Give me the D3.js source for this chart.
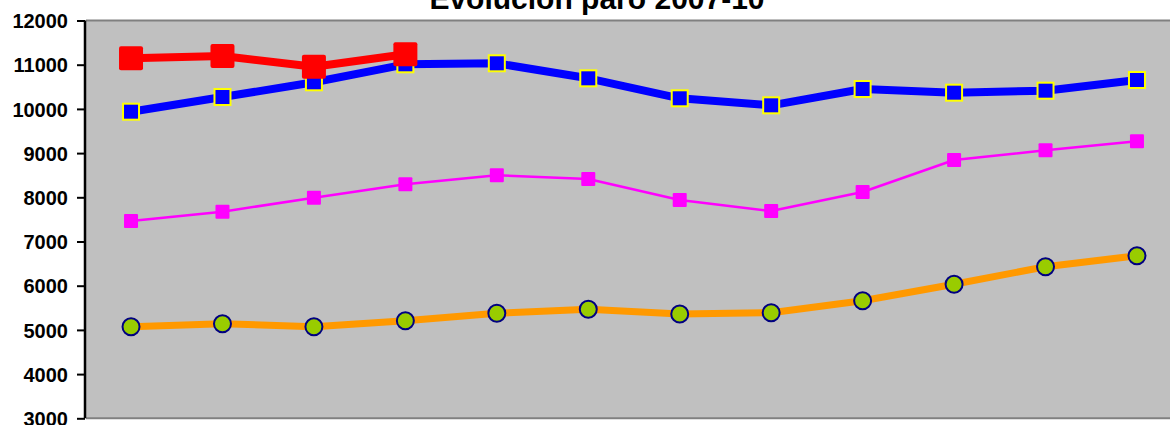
<!DOCTYPE html>
<html><head><meta charset="utf-8">
<script src="https://cdn.jsdelivr.net/npm/d3@7"></script>
<style>html,body{margin:0;padding:0;background:#fff;overflow:hidden}</style>
</head><body>
<svg id="c" width="1170" height="425"></svg>
<script>
const title = "Evolución paro 2007-10";
const months = ["Ene","Feb","Mar","Abr","May","Jun","Jul","Ago","Sep","Oct","Nov","Dic"];
const yTicks = [3000,4000,5000,6000,7000,8000,9000,10000,11000,12000];
const s2007 = [5072,5140,5072,5208,5376,5466,5360,5389,5661,6032,6430,6679];
const s2008 = [7464,7674,7991,8294,8498,8414,7939,7690,8120,8844,9063,9267];
const s2009 = [9937,10269,10602,11009,11032,10692,10240,10081,10450,10367,10412,10654];
const s2010 = [11145,11197,10955,11235];

const svg = d3.select("#c");
const L = 86, R = 1182.7, T = 20.5, B = 418.3;
const x = d3.scalePoint().domain(months).range([L - 0.7, R]).padding(0.5);
const y = d3.scaleLinear().domain([3000,12000]).range([B, T]);

// plot area
svg.append("rect").attr("x", L).attr("y", T).attr("width", R - L + 10).attr("height", B - T).attr("fill", "#C0C0C0");
svg.append("line").attr("x1", L).attr("x2", 1170).attr("y1", T).attr("y2", T).attr("stroke", "#808080").attr("stroke-width", 2);
svg.append("line").attr("x1", L).attr("x2", 1170).attr("y1", B).attr("y2", B).attr("stroke", "#808080").attr("stroke-width", 2);

// title
svg.append("text").attr("x", 597).attr("y", 9).attr("text-anchor", "middle")
  .attr("font-family", "Liberation Sans, Arial, sans-serif").attr("font-weight", "bold").attr("font-size", 30)
  .text(title);

// y axis
const ax = svg.append("g").attr("transform", `translate(${L - 1},0)`)
  .call(d3.axisLeft(y).tickValues(yTicks).tickFormat(d3.format("d")).tickSize(8).tickPadding(9));
ax.select(".domain").attr("stroke", "#000").attr("stroke-width", 2.5).attr("d", `M0,${T}V${B}`);
ax.selectAll(".tick line").attr("stroke", "#000").attr("stroke-width", 2);
ax.selectAll(".tick text").attr("font-family", "Liberation Sans, Arial, sans-serif")
  .attr("font-weight", "bold").attr("font-size", 20).attr("fill", "#000").attr("dy", "0.36em");

const line = d3.line().x((d, i) => x(months[i])).y(d => y(d));

function series(data, color, width) {
  svg.append("path").datum(data).attr("d", line).attr("fill", "none")
    .attr("stroke", color).attr("stroke-width", width).attr("stroke-linejoin", "round");
}

// 2007: orange line with green circles
series(s2007, "#FF9900", 7);
svg.append("g").selectAll("circle").data(s2007).join("circle")
  .attr("cx", (d, i) => x(months[i])).attr("cy", d => y(d)).attr("r", 8.5)
  .attr("fill", "#99CC00").attr("stroke", "#000080").attr("stroke-width", 2);

// 2008: magenta thin line with squares
series(s2008, "#FF00FF", 2.5);
svg.append("g").selectAll("rect").data(s2008).join("rect")
  .attr("x", (d, i) => x(months[i]) - 7).attr("y", d => y(d) - 7).attr("width", 14).attr("height", 14)
  .attr("rx", 1).attr("fill", "#FF00FF");

// 2009: blue thick line with yellow-bordered squares
series(s2009, "#0000FF", 8);
svg.append("g").selectAll("rect").data(s2009).join("rect")
  .attr("x", (d, i) => x(months[i]) - 8).attr("y", d => y(d) - 8).attr("width", 16).attr("height", 16)
  .attr("fill", "#0000FF").attr("stroke", "#FFFF00").attr("stroke-width", 2);

// 2010: red thick line with big squares
series(s2010, "#FF0000", 8);
svg.append("g").selectAll("rect").data(s2010).join("rect")
  .attr("x", (d, i) => x(months[i]) - 12).attr("y", d => y(d) - 12).attr("width", 24).attr("height", 24)
  .attr("rx", 2).attr("fill", "#FF0000");
</script>
</body></html>
